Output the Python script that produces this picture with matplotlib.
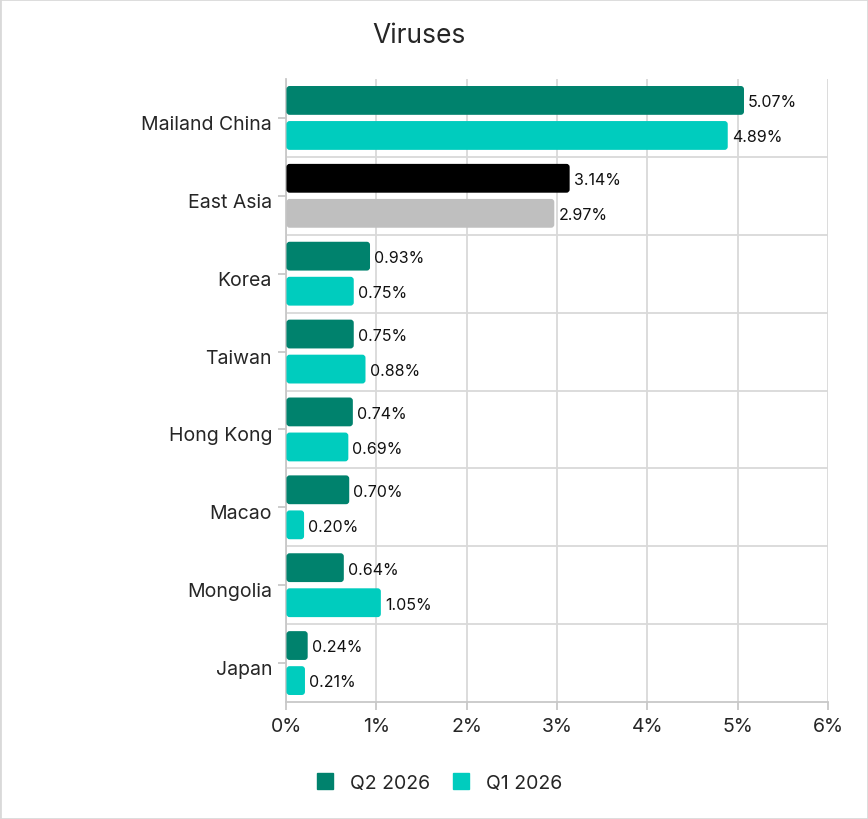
import matplotlib
matplotlib.use("Agg")
import matplotlib.pyplot as plt
from matplotlib.patches import FancyBboxPatch, Rectangle
from matplotlib.lines import Line2D
from matplotlib.transforms import ScaledTranslation

categories = ["Mailand China", "East Asia", "Korea", "Taiwan", "Hong Kong",
              "Macao", "Mongolia", "Japan"]
q2_2026 = [5.07, 3.14, 0.93, 0.75, 0.74, 0.70, 0.64, 0.24]
q1_2026 = [4.89, 2.97, 0.75, 0.88, 0.69, 0.20, 1.05, 0.21]
series_names = ["Q2 2026", "Q1 2026"]
highlight = "East Asia"
xticks = [0, 1, 2, 3, 4, 5, 6]

C_Q2, C_Q1 = "#00826D", "#00CCBE"
C_HI2, C_HI1 = "#000000", "#BFBFBF"
GRID = "#D9D9D9"
TXT = "#262626"

plt.rcParams["font.family"] = ["Inter", "DejaVu Sans"]

fig = plt.figure(figsize=(8.68, 8.2), dpi=100)
ax = fig.add_axes([286 / 868, 1 - 703 / 820, 542 / 868, 623 / 820])

n = len(categories)
ax.set_xlim(0, 6)
ax.set_ylim(n - 0.5, -0.5)

# aspect of data units in pixels so rounded corners look round
px_x = 6 / 542
px_y = n / 623
aspect = px_y / px_x

h = 0.37
off = 0.225
for i, cat in enumerate(categories):
    for val, dy, col, hcol in [(q2_2026[i], -off, C_Q2, C_HI2),
                               (q1_2026[i], off, C_Q1, C_HI1)]:
        c = hcol if cat == highlight else col
        box = FancyBboxPatch((0.005, i + dy - h / 2), val - 0.005, h,
                             boxstyle="round,pad=0,rounding_size=0.035",
                             mutation_aspect=aspect, fc=c, ec="none", zorder=3)
        ax.add_patch(box)
        ax.annotate(f"{val:.2f}%", (val, i + dy), xytext=(3, -1),
                    textcoords="offset points", va="center", ha="left",
                    fontsize=11.5, color="#111111", zorder=4)

# separators between categories
for b in range(1, n):
    ax.axhline(b - 0.5, color=GRID, lw=1.3, zorder=1)

ax.set_xticks(xticks)
ax.set_xticklabels([f"{t}%" for t in xticks], fontsize=14, color=TXT)
ax.xaxis.grid(True, color=GRID, lw=1.3, zorder=0)
ax.set_yticks(range(n))
ax.set_yticklabels(categories, fontsize=14, color=TXT)
ax.tick_params(axis="x", length=6, color="#C8C8C8", width=1.3, pad=5)
ax.tick_params(axis="y", length=6, color="#C8C8C8", width=1.3, pad=4)
# category labels sit a little below the tick in the original
shift = ScaledTranslation(0, -4 / 100, fig.dpi_scale_trans)
for lbl in ax.get_yticklabels():
    lbl.set_transform(lbl.get_transform() + shift)
for s in ["top", "right"]:
    ax.spines[s].set_visible(False)
for s in ["left", "bottom"]:
    ax.spines[s].set_color("#C8C8C8")
    ax.spines[s].set_linewidth(1.3)

fig.text(419 / 868, 1 - 36 / 820, "Viruses", ha="center", va="center",
         fontsize=19, color=TXT)

handles = [Line2D([], [], marker="s", ls="none", ms=11, color=C_Q2),
           Line2D([], [], marker="s", ls="none", ms=11, color=C_Q1)]
fig.legend(handles, series_names, loc="center", bbox_to_anchor=(434 / 868, 1 - 784 / 820),
           ncol=2, frameon=False, fontsize=14, handletextpad=0.3,
           columnspacing=0.6, labelcolor=TXT)

fig.patches.append(Rectangle((0, 0), 1, 1, transform=fig.transFigure, fill=False,
                             ec="#D9D9D9", lw=2))

fig.savefig("out.png", dpi=100)
